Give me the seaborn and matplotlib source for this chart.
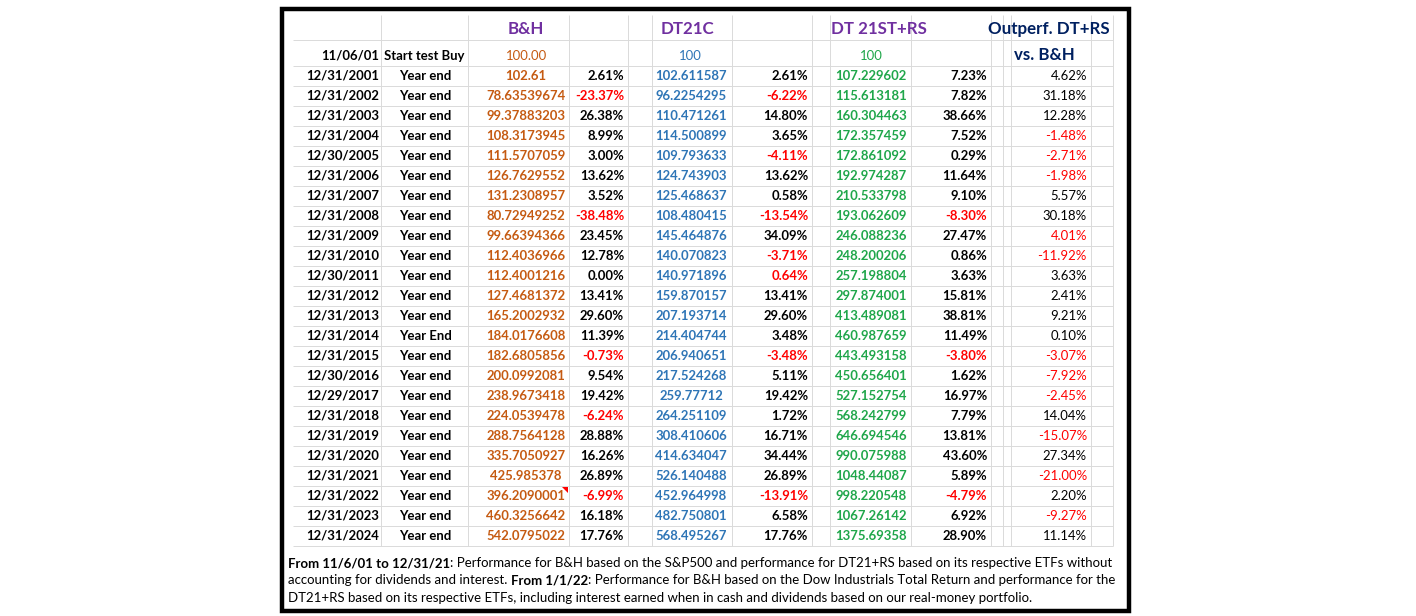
import numpy as np
import pandas as pd
import matplotlib.pyplot as plt
from matplotlib.patches import Rectangle, Polygon
import seaborn as sns

## DATA ##

dates = ["12/31/2001", "12/31/2002", "12/31/2003", "12/31/2004", "12/30/2005", "12/31/2006",
         "12/31/2007", "12/31/2008", "12/31/2009", "12/31/2010", "12/30/2011", "12/31/2012",
         "12/31/2013", "12/31/2014", "12/31/2015", "12/30/2016", "12/29/2017", "12/31/2018",
         "12/31/2019", "12/31/2020", "12/31/2021", "12/31/2022", "12/31/2023", "12/31/2024"]
row_labels = ["Year end"] * 13 + ["Year End"] + ["Year end"] * 10

bh_values = [102.61, 78.63539674, 99.37883203, 108.3173945, 111.5707059, 126.7629552,
             131.2308957, 80.72949252, 99.66394366, 112.4036966, 112.4001216, 127.4681372,
             165.2002932, 184.0176608, 182.6805856, 200.0992081, 238.9673418, 224.0539478,
             288.7564128, 335.7050927, 425.985378, 396.2090001, 460.3256642, 542.0795022]
bh_pct = [2.61, -23.37, 26.38, 8.99, 3.00, 13.62, 3.52, -38.48, 23.45, 12.78, 0.00, 13.41,
          29.60, 11.39, -0.73, 9.54, 19.42, -6.24, 28.88, 16.26, 26.89, -6.99, 16.18, 17.76]

dt21c_values = [102.611587, 96.2254295, 110.471261, 114.500899, 109.793633, 124.743903,
                125.468637, 108.480415, 145.464876, 140.070823, 140.971896, 159.870157,
                207.193714, 214.404744, 206.940651, 217.524268, 259.77712, 264.251109,
                308.410606, 414.634047, 526.140488, 452.964998, 482.750801, 568.495267]
dt21c_pct = [2.61, -6.22, 14.80, 3.65, -4.11, 13.62, 0.58, -13.54, 34.09, -3.71, 0.64, 13.41,
             29.60, 3.48, -3.48, 5.11, 19.42, 1.72, 16.71, 34.44, 26.89, -13.91, 6.58, 17.76]

dtrs_values = [107.229602, 115.613181, 160.304463, 172.357459, 172.861092, 192.974287,
               210.533798, 193.062609, 246.088236, 248.200206, 257.198804, 297.874001,
               413.489081, 460.987659, 443.493158, 450.656401, 527.152754, 568.242799,
               646.694546, 990.075988, 1048.44087, 998.220548, 1067.26142, 1375.69358]
dtrs_pct = [7.23, 7.82, 38.66, 7.52, 0.29, 11.64, 9.10, -8.30, 27.47, 0.86, 3.63, 15.81,
            38.81, 11.49, -3.80, 1.62, 16.97, 7.79, 13.81, 43.60, 5.89, -4.79, 6.92, 28.90]

outperf = [4.62, 31.18, 12.28, -1.48, -2.71, -1.98, 5.57, 30.18, 4.01, -11.92, 3.63, 2.41,
           9.21, 0.10, -3.07, -7.92, -2.45, 14.04, -15.07, 27.34, -21.00, 2.20, -9.27, 11.14]

# cells shown in red although positive (as in the sheet)
red_overrides = {("dt21c_pct", "12/30/2011"), ("outperf", "12/31/2009")}

start_date = "11/06/01"
start_label = "Start test Buy"
start_values = ["100.00", "100", "100"]

headers = ["B&H", "DT21C", "DT 21ST+RS", "Outperf. DT+RS"]
sub_header = "vs. B&H"

footnote = [
    [("From 11/6/01 to 12/31/21", "bold"),
     (": Performance for B&H based on the S&P500 and performance for DT21+RS based on its respective ETFs without", "normal")],
    [("accounting for dividends and interest. ", "normal"), ("From 1/1/22", "bold"),
     (": Performance for B&H based on the Dow Industrials Total Return and performance for the", "normal")],
    [("DT21+RS based on its respective ETFs, including interest earned when in cash and dividends based on our real-money portfolio.", "normal")],
]

#######

df = pd.DataFrame({
    "date": dates, "label": row_labels,
    "bh": bh_values, "bh_pct": bh_pct,
    "dt21c": dt21c_values, "dt21c_pct": dt21c_pct,
    "dtrs": dtrs_values, "dtrs_pct": dtrs_pct,
    "outperf": outperf,
})

sns.set_theme(style="white")
plt.rcParams['font.family'] = ['Lato', 'DejaVu Sans']

ORANGE = "#C55A11"
BLUE = "#2E75B6"
GREEN = "#1FA64A"
PURPLE = "#7030A0"
NAVY = "#002060"
RED = "#FF0000"
GRID = "#DADADA"

fig = plt.figure(figsize=(14.16, 6.16), dpi=100)
ax = fig.add_axes([0, 0, 1, 1])
ax.set_xlim(0, 1416)
ax.set_ylim(616, 0)
ax.axis("off")
renderer = fig.canvas.get_renderer()

# size the body font from the width of a long value in the sheet
probe = ax.text(0, 0, "78.63539674", fontsize=10, fontweight="bold")
fs = 10 * 79 / probe.get_window_extent(renderer=renderer).width
probe.remove()

row_y0 = 76   # first data row centre
row_h = 20


def cell(x, y, s, ha="center", bold=True, color="black"):
    ax.text(x, y, s, ha=ha, va="center", fontsize=fs,
            fontweight="bold" if bold else "normal", color=color)


# grid lines
vlines = [381, 468, 569, 628, 652, 732, 812, 830, 911, 991, 1003, 1011, 1091, 1113]
ax.vlines(vlines, 15, 546, color=GRID, lw=0.7)
ax.hlines([40] + [row_y0 - 10 + row_h * k for k in range(len(dates) + 1)], 293, 1113, color=GRID, lw=0.7)

# outer frame
ax.add_patch(Rectangle((282, 9), 847, 602, fill=False, edgecolor="black", lw=3.2))

# headers
hdr_x = [526, 688, 879, 1049]
hdr_c = [PURPLE, PURPLE, PURPLE, NAVY]
for h, x, c in zip(headers, hdr_x, hdr_c):
    ax.text(x, 29, h, ha="center", va="center", fontsize=12.2, fontweight="bold", color=c)
ax.text(1044, 55, sub_header, ha="center", va="center", fontsize=12.2, fontweight="bold", color=NAVY)

# start row
cell(379, 56, start_date, ha="right")
cell(424, 56, start_label)
for v, x, c in zip(start_values, [527, 690, 871], [ORANGE, BLUE, GREEN]):
    cell(x, 56, v, bold=False, color=c)


def pct_color(col, date, v):
    if v < 0 or (col, date) in red_overrides:
        return RED
    return "black"


for i, r in df.iterrows():
    y = row_y0 + row_h * i
    cell(379, y, r["date"], ha="right")
    cell(425, y, r["label"])
    cell(526, y, str(r["bh"]), color=ORANGE)
    cell(624, y, f"{r['bh_pct']:.2f}%", ha="right", color=pct_color("bh_pct", r["date"], r["bh_pct"]))
    cell(691, y, str(r["dt21c"]), color=BLUE)
    cell(808, y, f"{r['dt21c_pct']:.2f}%", ha="right", color=pct_color("dt21c_pct", r["date"], r["dt21c_pct"]))
    cell(871, y, str(r["dtrs"]), color=GREEN)
    cell(987, y, f"{r['dtrs_pct']:.2f}%", ha="right", color=pct_color("dtrs_pct", r["date"], r["dtrs_pct"]))
    cell(1087, y, f"{r['outperf']:.2f}%", ha="right", bold=False, color=pct_color("outperf", r["date"], r["outperf"]))

# comment marker on the 2022 B&H cell
yc = row_y0 + row_h * dates.index("12/31/2022") - 10
ax.add_patch(Polygon([[562, yc + 1], [568, yc + 1], [568, yc + 7]], closed=True, color=RED, lw=0))

# footnote with mixed weights
fn_fs = 9.5
for k, parts in enumerate(footnote):
    x = 288
    y = 563 + 17.5 * k
    for txt, w in parts:
        t = ax.text(x, y, txt, ha="left", va="center", fontsize=fn_fs, fontweight=w, color="black")
        bb = t.get_window_extent(renderer=renderer)
        x += bb.width

fig.savefig("out.png", dpi=100, facecolor="white")
